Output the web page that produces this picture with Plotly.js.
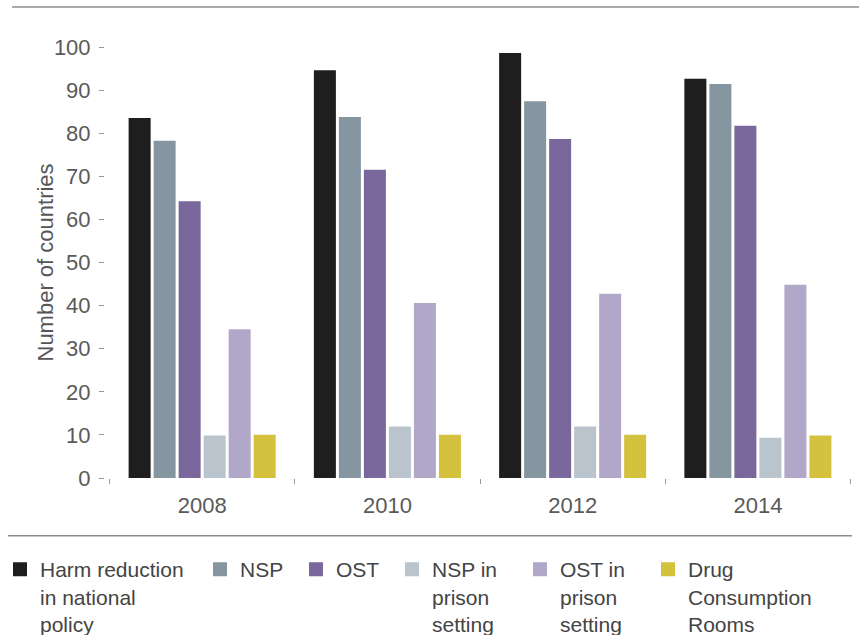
<!DOCTYPE html>
<html>
<head>
<meta charset="utf-8">
<script src="https://cdn.plot.ly/plotly-3.0.1.min.js"></script>
<style>html,body{margin:0;padding:0;background:#fff;}#chart{width:859px;height:635px;}</style>
</head>
<body>
<div id="chart"></div>
<script>
// ---- data ----
const years = ['2008', '2010', '2012', '2014'];
const harmReduction = [83.3, 94.4, 98.4, 92.4];
const nsp = [78.0, 83.5, 87.2, 91.2];
const ost = [64.0, 71.3, 78.4, 81.5];
const nspPrison = [9.6, 11.7, 11.7, 9.1];
const ostPrison = [34.3, 40.4, 42.5, 44.6];
const drugRooms = [9.8, 9.8, 9.8, 9.6];
const seriesNames = ['Harm reduction<br>in national<br>policy', 'NSP', 'OST',
  'NSP in<br>prison<br>setting', 'OST in<br>prison<br>setting', 'Drug<br>Consumption<br>Rooms'];
const yTicks = [0, 10, 20, 30, 40, 50, 60, 70, 80, 90, 100];
const yTitle = 'Number of countries';

// ---- styles ----
const colors = ['#1e1e1e', '#8596a1', '#7a679b', '#bac4cc', '#b1a8c9', '#d4c13e'];
const seriesValues = [harmReduction, nsp, ost, nspPrison, ostPrison, drugRooms];
const legendNames = ['legend', 'legend2', 'legend3', 'legend4', 'legend5', 'legend6'];
const legendLeft = [12, 214, 310, 406, 534, 662]; // px of legend box left
const W = 859, H = 635;
const FONT = 'Liberation Sans, Arial, sans-serif';

const traces = seriesValues.map((vals, i) => ({
  type: 'bar',
  x: years,
  y: vals,
  name: seriesNames[i],
  marker: {color: colors[i], line: {width: 2, color: colors[i]}},
  legend: legendNames[i],
  hoverinfo: 'x+y'
}));

const layout = {
  width: W, height: H,
  margin: {l: 105, r: 7, t: 47, b: 157, pad: 0, autoexpand: false},
  paper_bgcolor: '#ffffff',
  plot_bgcolor: '#ffffff',
  font: {family: FONT, color: '#555555', size: 21},
  barmode: 'group',
  bargap: 0.19,
  bargroupgap: 0.2,
  xaxis: {
    type: 'category',
    range: [-0.5324 + 0.008, 3.5 + 0.008],
    tickson: 'boundaries',
    ticks: 'outside',
    ticklen: 5,
    tickwidth: 1,
    tickcolor: '#999999',
    showline: false,
    showgrid: false,
    zeroline: false,
    tickangle: 0,
    automargin: false,
    tickfont: {family: FONT, size: 22, color: '#5a5a5a'},
    ticklabelstandoff: 12
  },
  yaxis: {
    range: [0, 100],
    tickvals: yTicks,
    ticks: 'outside',
    ticklen: 5,
    tickwidth: 1,
    tickcolor: '#999999',
    showline: false,
    showgrid: false,
    zeroline: false,
    automargin: false,
    tickfont: {family: FONT, size: 22, color: '#5a5a5a'},
    ticklabelstandoff: 4
  },
  annotations: [
    {text: yTitle, xref: 'paper', yref: 'paper', x: (45 - 105) / 747, y: 0.5,
      xanchor: 'center', yanchor: 'middle', textangle: -90, showarrow: false,
      font: {family: FONT, size: 22, color: '#555555'}}
  ],
  shapes: [
    {type: 'line', xref: 'paper', yref: 'paper', x0: (12 - 105) / 747, x1: (859 - 105) / 747,
      y0: (478.3 - 7) / 431.3, y1: (478.3 - 7) / 431.3, line: {color: '#aaaaaa', width: 2}},
    {type: 'line', xref: 'paper', yref: 'paper', x0: (8 - 105) / 747, x1: (852 - 105) / 747,
      y0: (478.3 - 536) / 431.3, y1: (478.3 - 536) / 431.3, line: {color: '#8a8a8a', width: 1.5}}
  ],
  showlegend: true
};

legendNames.forEach((ln, i) => {
  layout[ln] = {
    xref: 'container', yref: 'container',
    x: Math.max(0, legendLeft[i] - 14) / W,
    y: 1 - 549 / H,
    xanchor: 'left', yanchor: 'top',
    orientation: 'v',
    valign: 'top',
    bgcolor: 'rgba(0,0,0,0)',
    borderwidth: 0,
    font: {family: FONT, size: 21, color: '#444444'},
    itemclick: false, itemdoubleclick: false
  };
});

Plotly.newPlot('chart', traces, layout, {displayModeBar: false, staticPlot: true});
</script>
</body>
</html>
